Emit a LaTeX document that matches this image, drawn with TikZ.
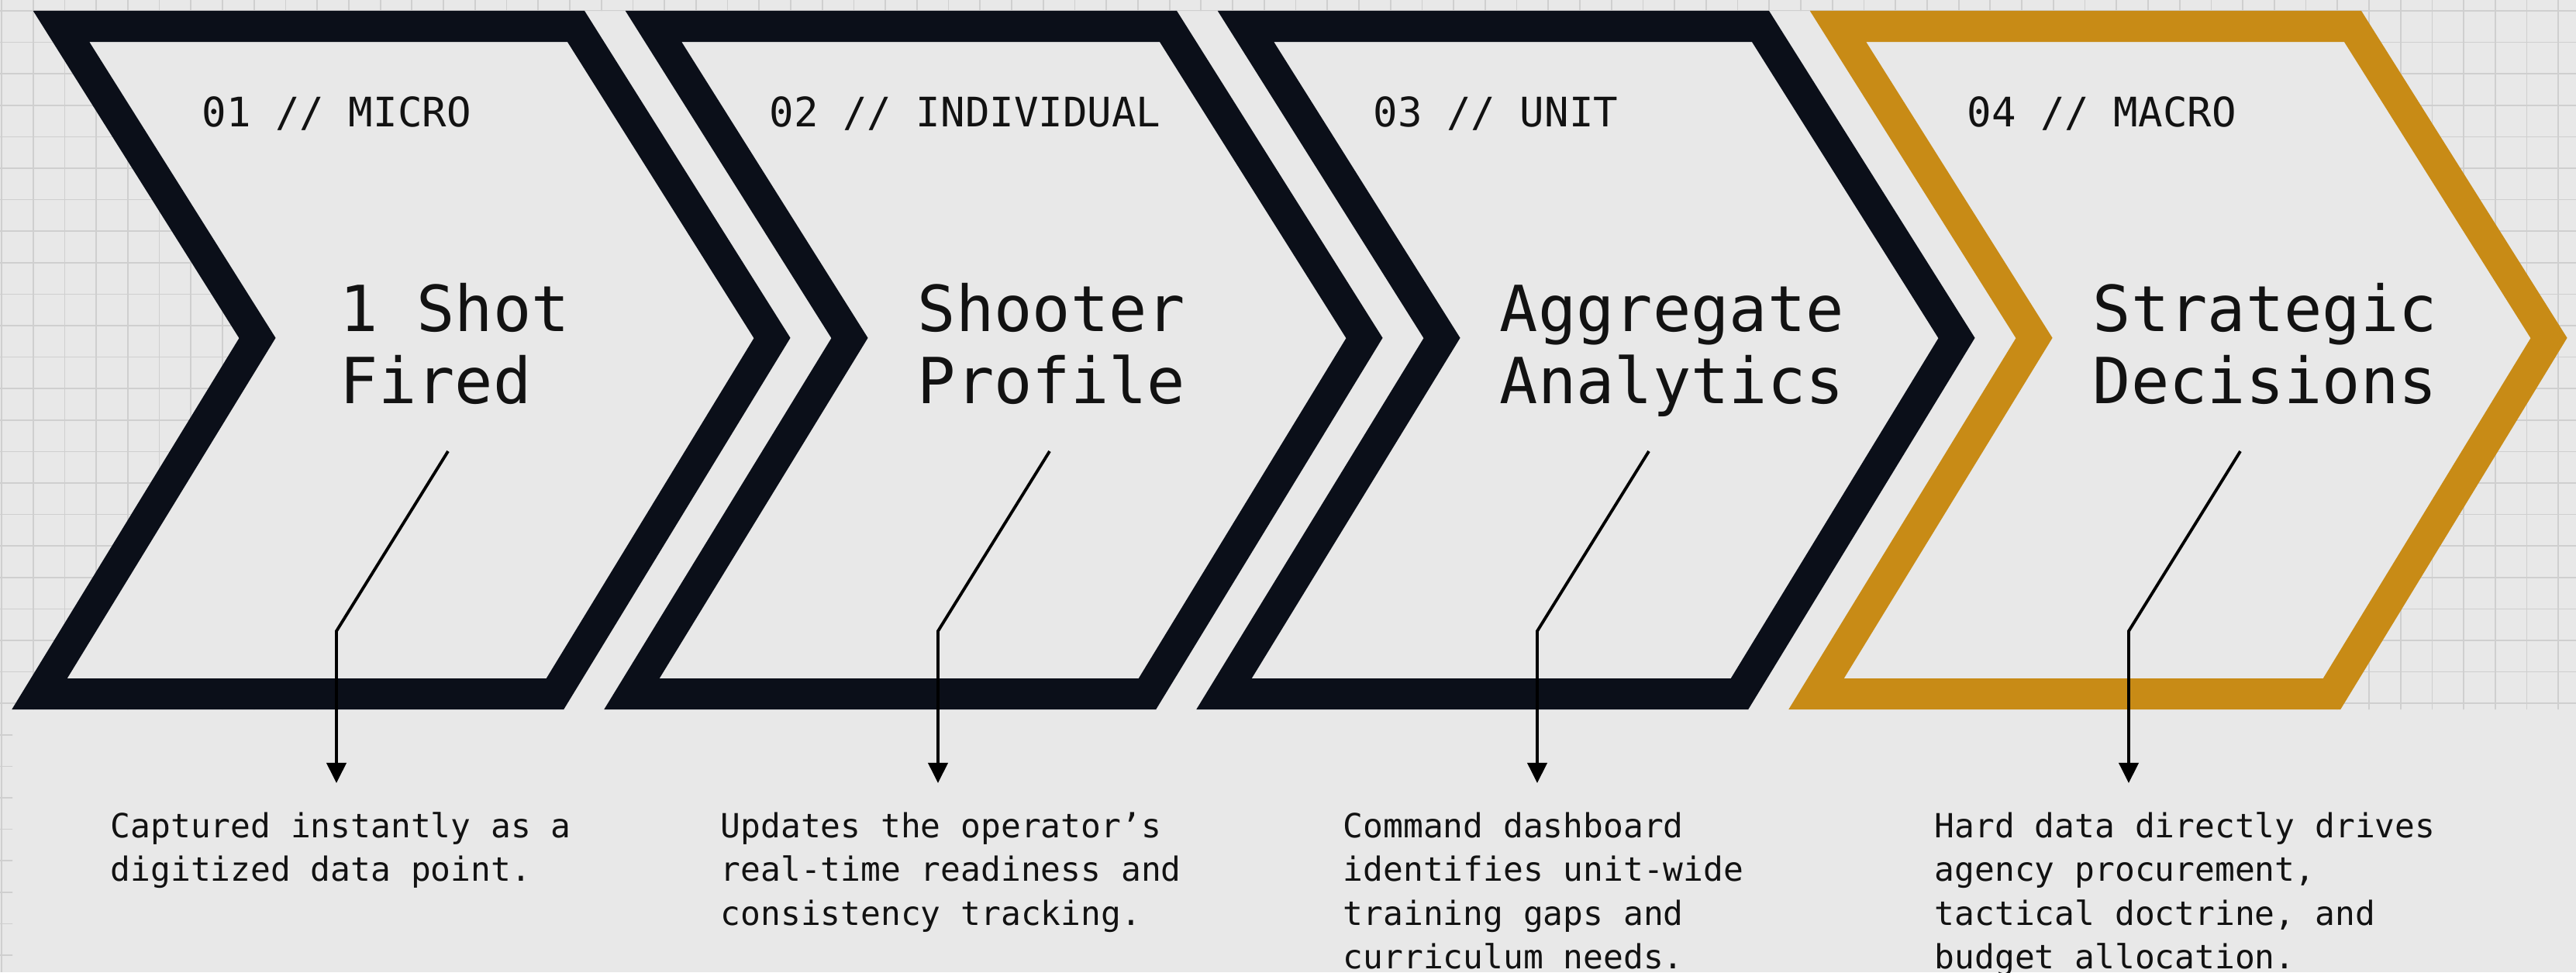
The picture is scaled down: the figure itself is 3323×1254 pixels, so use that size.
\documentclass[tikz,border=0pt]{standalone}
\usepackage{fontspec}
\newfontfamily\monof{DejaVu Sans Mono}
\usetikzlibrary{arrows.meta}
\definecolor{bg}{HTML}{E8E8E8}
\definecolor{gridc}{HTML}{CFCFCF}
\definecolor{ink}{HTML}{0B0F19}
\definecolor{gold}{HTML}{C88B16}
\definecolor{txt}{HTML}{121212}
\begin{document}
\begin{tikzpicture}[x=0.01cm,y=-0.01cm,
  chev/.style={line width=0.4cm, line join=miter, miter limit=10, fill=bg},
  lbl/.style={font=\monof\fontsize{14.9pt}{18pt}\selectfont, text=txt, anchor=base west, inner sep=0pt},
  ttl/.style={font=\monof\fontsize{23.3pt}{26.7pt}\selectfont, text=txt, anchor=base west, inner sep=0pt},
  blt/.style={font=\monof\fontsize{12.2pt}{16.1pt}\selectfont, text=txt, anchor=base west, inner sep=0pt},
  conn/.style={line width=1.1pt, draw=black},
  arr/.style={conn, -{Triangle[length=0.26cm,width=0.25cm]}}]
\fill[bg] (0,0) rectangle (3323,1254);
\useasboundingbox (0,0) rectangle (3323,1254);
% grid
\begin{scope}
\clip (0,0) rectangle (3323,14) (0,0) rectangle (420,915) (0,915) rectangle (16,1254) (2980,0) rectangle (3323,915);
\foreach \k in {-1,...,80} \draw[gridc, line width=0.5pt] (42.7+40.72*\k,0) -- (42.7+40.72*\k,1254);
\foreach \k in {0,...,30} \draw[gridc, line width=0.5pt] (0,14+40.6*\k) -- (3323,14+40.6*\k);
\end{scope}
% chevrons
\foreach \i/\col in {0/ink,1/ink,2/ink,3/gold} {
  \pgfmathsetmacro\xo{43+764*\i}
  \draw[chev, draw=\col] (\xo+36,34) -- (\xo+700,34) -- (\xo+953,436) -- (\xo+673,895) -- (\xo+8,895) -- (\xo+289,436) -- cycle;
}
% labels
\node[lbl] (l1) at (260,163) {01 // MICRO};
\node[lbl] (l2) at (992,163) {02 // INDIVIDUAL};
\node[lbl] (l3) at (1771,163) {03 // UNIT};
\node[lbl] (l4) at (2537,163) {04 // MACRO};
% titles
\node[ttl] (t1) at (438,427) {\vtop{\baselineskip=26.7pt\hbox{1 Shot}\hbox{Fired}}};
\node[ttl] (t2) at (1183,427) {\vtop{\baselineskip=26.7pt\hbox{Shooter}\hbox{Profile}}};
\node[ttl] (t3) at (1934,427) {\vtop{\baselineskip=26.7pt\hbox{Aggregate}\hbox{Analytics}}};
\node[ttl] (t4) at (2699,427) {\vtop{\baselineskip=26.7pt\hbox{Strategic}\hbox{Decisions}}};
% bullets
\node[blt] (d1) at (142,1080) {\vtop{\baselineskip=16.1pt\hbox{Captured instantly as a}\hbox{digitized data point.}}};
\node[blt] (d2) at (929,1080) {\vtop{\baselineskip=16.1pt\hbox{Updates the operator’s}\hbox{real-time readiness and}\hbox{consistency tracking.}}};
\node[blt] (d3) at (1732,1080) {\vtop{\baselineskip=16.1pt\hbox{Command dashboard}\hbox{identifies unit-wide}\hbox{training gaps and}\hbox{curriculum needs.}}};
\node[blt] (d4) at (2495,1080) {\vtop{\baselineskip=16.1pt\hbox{Hard data directly drives}\hbox{agency procurement,}\hbox{tactical doctrine, and}\hbox{budget allocation.}}};
% connectors
\foreach \i/\sx in {1/578,2/1354,3/2127,4/2890} {
  \coordinate (s\i) at (\sx,582);
  \coordinate (b\i) at (\sx-144,814);
  \coordinate (e\i) at (\sx-144,1010);
  \draw[arr] (s\i) -- (b\i) -- (e\i);
}
\end{tikzpicture}
\end{document}
